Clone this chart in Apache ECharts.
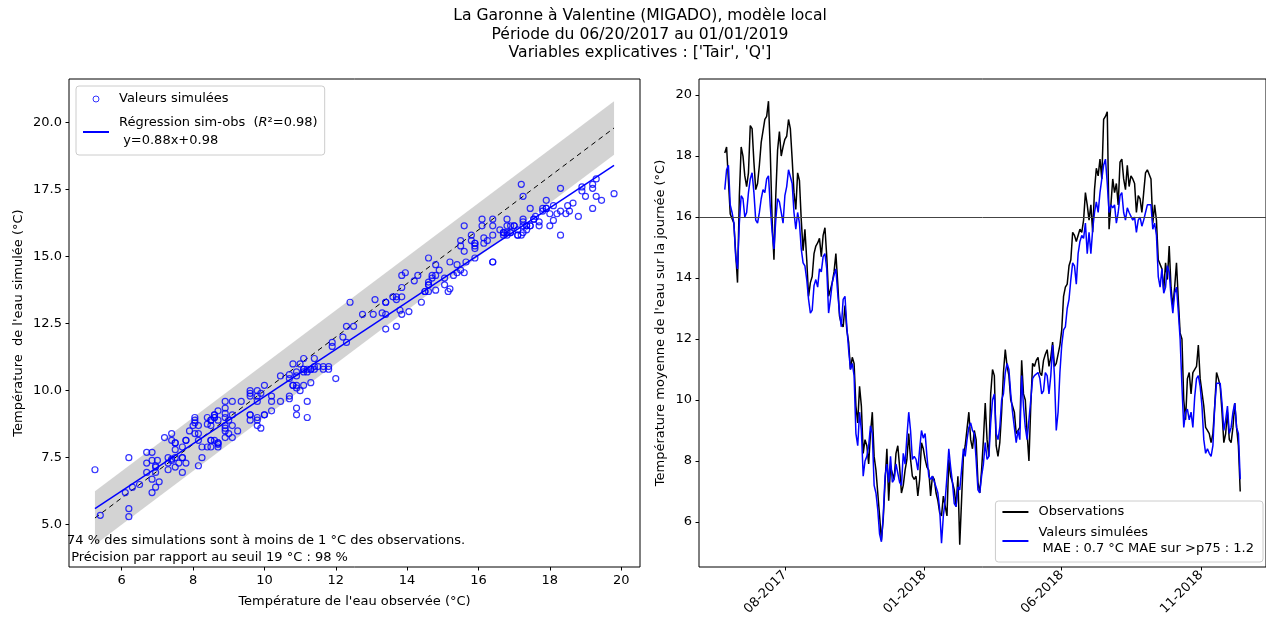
<!DOCTYPE html>
<html>
<head>
<meta charset="utf-8">
<title>La Garonne à Valentine</title>
<script src="https://cdn.jsdelivr.net/npm/echarts@6/dist/echarts.min.js"></script>
<style>
  html, body { margin: 0; padding: 0; background: #fff; }
  #chart { width: 1266px; height: 624px; }
</style>
</head>
<body>
<div id="chart"></div>
<script>
// water temperature (°C), one reading every 2 days starting 27/05/2017
const startDate = '2017-05-27';
const stepDays = 2;

const observed = [
  18.1, 18.3, 17.2, 16.1, 16.1, 15.8, 14.8, 13.85, 16.7, 18.3,
  18.0, 17.35, 17.0, 17.45, 19.0, 18.9, 17.8, 16.9, 17.1, 17.7,
  18.45, 18.5, 19.2, 19.3, 19.8, 18.1, 15.9, 14.6, 16.7, 18.2,
  18.8, 18.0, 18.3, 18.55, 18.65, 19.2, 18.9, 17.9, 16.8, 16.25,
  17.45, 17.2, 15.9, 14.9, 15.6, 14.6, 13.4, 13.85, 14.05, 14.8,
  15.05,
  15.15, 15.3, 14.7, 15.4, 15.65, 14.7, 13.4, 13.4, 13.85, 14.2,
  14.8, 13.85, 12.75, 12.5, 12.4, 13.1, 12.3, 11.9, 11.0, 11.4,
  11.2, 9.8, 9.25, 10.45, 9.8, 8.25, 8.7, 8.5, 7.9, 8.9,
  9.6, 8.15, 7.7, 6.95, 6.2, 5.4, 6.1, 7.3, 8.4, 6.7,
  7.8, 7.6, 7.4, 8.25, 8.5, 7.8, 6.95, 7.2,
  7.7, 8.05, 8.9, 8.05, 7.5, 7.4, 7.5, 6.85, 7.4, 8.6,
  8.4, 8.05, 7.8, 7.7, 6.85, 7.5, 7.4, 6.95, 6.7, 6.3,
  6.2, 6.85, 6.85, 6.2, 8.05, 7.5, 7.3, 7.05, 6.5, 7.5,
  5.25, 6.7, 8.15, 8.5, 8.5, 9.6, 8.7, 8.4, 9.0, 8.7,
  7.3, 6.95, 7.7, 8.7, 9.9, 8.7, 8.15, 10.2, 11.0, 10.8,
  8.5, 8.15, 8.6, 9.6, 10.9, 11.65, 11.1, 10.8, 10.0, 9.8,
  9.6, 8.9, 8.9, 9.1, 11.3, 10.2, 10.0, 8.9, 8.0, 9.8,
  11.2, 11.1, 11.3, 11.4, 10.9, 10.8, 11.3, 11.5, 11.65, 11.1,
  11.4, 11.9, 11.1, 11.2, 11.2, 11.8, 12.3, 13.4, 13.7, 13.8,
  14.4, 14.6, 15.5, 15.4, 15.2, 15.2, 15.6, 15.5, 15.9,
  16.8, 16.4, 15.9, 16.4, 15.5, 16.9, 17.6, 17.35, 17.9, 17.25,
  19.2, 19.3, 19.45, 15.6, 16.4, 17.25, 16.8, 17.1, 16.4, 17.8,
  17.9, 17.25, 16.9, 17.7, 17.0, 17.35, 17.25, 17.1, 16.15, 16.7,
  16.6, 16.15, 16.8, 17.45, 17.55, 17.55, 17.25, 15.8, 16.4, 15.9,
  14.6, 14.6, 14.3, 13.6, 14.5, 13.95, 15.05, 13.7, 13.05, 13.7,
  14.5, 13.3, 12.2, 12.0, 10.0, 9.35, 10.7, 10.9, 10.2, 10.9,
  10.9, 11.1, 11.8, 10.7, 10.7, 9.8, 9.1, 9.0, 8.9, 8.6,
  8.9, 9.8, 10.9, 10.7, 10.45, 9.6, 8.6, 8.9, 9.6, 8.7,
  8.6, 9.1, 9.9, 9.1, 8.5, 7.0
];

const simulated = [
  16.9, 17.55, 17.7, 16.4, 16.15, 15.8, 14.7, 14.3, 15.8, 16.7,
  16.6, 16.0, 16.15, 16.8, 17.25, 17.45, 16.8, 15.9, 15.8, 16.15,
  16.6, 16.9, 16.8, 17.25, 17.35, 16.35, 15.5, 14.95, 15.9, 16.6,
  16.5, 16.15, 15.8, 16.7, 17.0, 17.55, 17.6, 17.1, 16.15, 15.6,
  16.15, 15.8, 14.95, 14.5, 14.4, 13.95, 13.3, 12.85, 12.95, 13.75,
  13.95,
  13.7, 14.3, 14.2, 14.7, 14.8, 14.3, 12.85, 13.3, 13.85, 14.1,
  14.3, 13.5, 12.85, 12.4, 13.3, 13.4, 12.4, 11.65, 11.0, 11.2,
  10.8, 8.9, 8.5, 9.6, 9.0, 7.5, 8.0, 8.15, 8.5, 9.15,
  8.9, 7.2, 6.95, 6.4, 5.6, 5.35, 6.2, 7.5, 7.9, 7.3,
  8.15, 7.3, 7.4, 7.9, 7.9, 7.3, 7.2, 8.25,
  7.9, 8.8, 9.6, 9.0, 8.05, 8.15, 8.05, 7.7, 8.4, 9.0,
  8.75, 8.9, 8.15, 7.5, 7.4, 7.5, 7.45, 7.15, 6.95, 6.4,
  5.3, 6.2, 6.7, 7.5, 8.4, 7.8, 7.3, 6.6, 6.5, 7.15,
  7.05, 7.7, 8.4, 8.15, 8.7, 9.1, 9.25, 9.0, 8.9, 8.05,
  7.05, 6.95, 7.5, 7.9, 8.6, 8.05, 8.15, 9.25, 10.0, 10.2,
  8.9, 8.7, 9.1, 10.0, 10.2, 10.9, 11.2, 11.0, 10.2, 9.6,
  9.1, 8.6, 9.0, 8.7, 10.8, 9.8, 9.1, 8.7, 8.7, 10.0,
  10.7, 10.8, 10.8, 10.9, 10.7, 10.2, 10.3, 10.9, 10.8, 10.2,
  10.8, 11.8, 10.8, 9.0, 9.6, 10.9, 11.8, 12.3, 12.4, 13.0,
  13.3, 13.95, 14.5, 14.4, 13.8, 14.8, 15.2, 15.4, 15.3,
  15.8, 14.8, 15.5, 14.8, 15.6, 16.15, 16.5, 16.15, 16.8, 17.25,
  17.7, 17.9, 17.1, 16.15, 16.4, 16.3, 16.4, 15.8, 16.15, 16.7,
  16.8, 16.15, 15.9, 16.3, 16.15, 16.15, 15.9, 16.0, 15.5, 15.9,
  16.0, 15.7, 15.9, 16.15, 16.4, 16.4, 16.4, 15.6, 15.8, 15.4,
  14.05, 13.7, 14.3, 13.5, 13.7, 14.4, 14.2, 13.4, 12.85, 13.5,
  13.7, 12.9, 12.0, 10.45, 9.1, 9.6, 9.7, 9.35, 9.6, 9.1,
  10.1, 10.7, 10.8, 10.45, 9.8, 8.7, 8.25, 8.4, 8.25, 8.15,
  8.5, 9.8, 10.55, 10.6, 10.55, 9.9, 9.0, 9.35, 9.8, 8.9,
  9.1, 9.6, 9.9, 9.1, 8.9, 7.4
];

const xTicksLeft = [6, 8, 10, 12, 14, 16, 18, 20];
const yTicksLeft = [5, 7.5, 10, 12.5, 15, 17.5, 20];
const yTicksRight = [6, 8, 10, 12, 14, 16, 18, 20];
const dateTicks = ['2017-08-01', '2018-01-01', '2018-06-01', '2018-11-01'];

// regression sim = slope * obs + intercept, as printed in the legend
const slope = 0.88;
const intercept = 0.98;
const threshold = 16;

const FONT = 'DejaVu Sans';
const DAY = 86400000;
const t0 = Date.parse(startDate + 'T00:00:00Z');

const obsSeries = observed.map((v, i) => [t0 + i * stepDays * DAY, v]);
const simSeries = simulated.map((v, i) => [t0 + i * stepDays * DAY, v]);
const pairs = observed.map((v, i) => [v, simulated[i]]);

const xMin = Math.min(...observed);
const xMax = Math.max(...observed);
// +/- 1 °C band around the 1:1 line
const bandCorners = [[xMin, xMin - 1], [xMax, xMax - 1], [xMax, xMax + 1], [xMin, xMin + 1]];

// matplotlib-like 5% margins
const pad = (lo, hi) => [lo - 0.05 * (hi - lo), hi + 0.05 * (hi - lo)];
const leftX = pad(xMin, xMax);
const leftY = pad(Math.min(xMin - 1, ...simulated), Math.max(xMax + 1, ...simulated));
const allVals = observed.concat(simulated);
const rightY = pad(Math.min(...allVals), Math.max(...allVals));
const rightX = pad(obsSeries[0][0], obsSeries[obsSeries.length - 1][0]);

const legendNames = {
  pts: 'Valeurs simulées',
  reg: 'Régression sim-obs  ({i|R}²=0.98)\n y=0.88x+0.98',
  obs: 'Observations',
  sim: 'Valeurs simulées\n MAE : 0.7 °C MAE sur >p75 : 1.2'
};

const axisText = { color: '#000', fontSize: 13, fontFamily: FONT };
const tick = { show: true, length: 3.5, lineStyle: { color: '#000', width: 1 } };
const noDot = { opacity: 0 };

const chart = echarts.init(document.getElementById('chart'));

chart.setOption({
  animation: false,
  backgroundColor: '#fff',
  textStyle: { fontFamily: FONT },
  graphic: [
    {
      type: 'text', x: 640, y: 7, z: 10,
      style: {
        text: "La Garonne à Valentine (MIGADO), modèle local\nPériode du 06/20/2017 au 01/01/2019\nVariables explicatives : ['Tair', 'Q']",
        fontSize: 15.6, fontFamily: FONT, lineHeight: 18.5, fill: '#000',
        align: 'center', verticalAlign: 'top'
      }
    },
    {
      type: 'text', x: 67, y: 532, z: 10,
      style: {
        text: '74 % des simulations sont à moins de 1 °C des observations.\n Précision par rapport au seuil 19 °C : 98 %',
        fontSize: 13, fontFamily: FONT, lineHeight: 17, fill: '#000',
        align: 'left', verticalAlign: 'top'
      }
    }
  ],
  grid: [
    { left: 69, top: 79, width: 571, height: 488, show: true, borderColor: '#000', borderWidth: 1, backgroundColor: 'transparent' },
    { left: 699, top: 79, width: 570, height: 488, show: true, borderColor: '#000', borderWidth: 1, backgroundColor: 'transparent' }
  ],
  xAxis: [
    {
      type: 'value', gridIndex: 0, min: leftX[0], max: leftX[1],
      name: "Température de l'eau observée (°C)", nameLocation: 'middle', nameGap: 28,
      nameTextStyle: axisText,
      axisLine: { show: false }, splitLine: { show: false },
      axisTick: Object.assign({ customValues: xTicksLeft }, tick),
      axisLabel: Object.assign({ customValues: xTicksLeft, margin: 7 }, axisText)
    },
    {
      type: 'value', gridIndex: 1, min: rightX[0], max: rightX[1],
      axisLine: { show: false }, splitLine: { show: false },
      axisTick: Object.assign({ customValues: dateTicks.map(s => Date.parse(s + 'T00:00:00Z')) }, tick),
      axisLabel: Object.assign({
        customValues: dateTicks.map(s => Date.parse(s + 'T00:00:00Z')),
        rotate: 45, margin: 6,
        formatter: v => {
          const d = new Date(v);
          return String(d.getUTCMonth() + 1).padStart(2, '0') + '-' + d.getUTCFullYear();
        }
      }, axisText)
    }
  ],
  yAxis: [
    {
      type: 'value', gridIndex: 0, min: leftY[0], max: leftY[1],
      name: "Température  de l'eau simulée (°C)", nameLocation: 'middle', nameGap: 44,
      nameTextStyle: axisText,
      axisLine: { show: false }, splitLine: { show: false },
      axisTick: Object.assign({ customValues: yTicksLeft }, tick),
      axisLabel: Object.assign({ customValues: yTicksLeft, margin: 7, formatter: v => v.toFixed(1) }, axisText)
    },
    {
      type: 'value', gridIndex: 1, min: rightY[0], max: rightY[1],
      name: "Température moyenne de l'eau sur la journée (°C)", nameLocation: 'middle', nameGap: 32,
      nameTextStyle: axisText,
      axisLine: { show: false }, splitLine: { show: false },
      axisTick: Object.assign({ customValues: yTicksRight }, tick),
      axisLabel: Object.assign({ customValues: yTicksRight, margin: 7 }, axisText)
    }
  ],
  legend: [
    {
      data: [
        { name: 'pts', icon: 'circle', itemStyle: { color: '#fff', borderColor: '#0000ff', borderWidth: 1 } },
        { name: 'reg', itemStyle: noDot }
      ],
      orient: 'vertical', left: 76, top: 86,
      itemWidth: 26, itemHeight: 6, itemGap: 6,
      padding: [4, 7, 5, 6],
      borderColor: '#cccccc', borderWidth: 1, borderRadius: 3,
      backgroundColor: 'rgba(255,255,255,0.8)',
      selectedMode: false,
      formatter: n => legendNames[n],
      textStyle: {
        color: '#000', fontSize: 13, fontFamily: FONT, lineHeight: 18, padding: [0, 0, 0, 5],
        rich: { i: { fontStyle: 'italic', fontSize: 13, fontFamily: FONT, lineHeight: 18 } }
      }
    },
    {
      data: [
        { name: 'obs', itemStyle: noDot },
        { name: 'sim', itemStyle: noDot }
      ],
      orient: 'vertical', right: 3, bottom: 62,
      itemWidth: 26, itemHeight: 6, itemGap: 5,
      padding: [3, 9, 5, 6],
      borderColor: '#cccccc', borderWidth: 1, borderRadius: 3,
      backgroundColor: 'rgba(255,255,255,0.8)',
      selectedMode: false,
      formatter: n => legendNames[n],
      textStyle: { color: '#000', fontSize: 13, fontFamily: FONT, lineHeight: 16, padding: [0, 0, 0, 5] }
    }
  ],
  series: [
    {
      name: 'band', type: 'custom', xAxisIndex: 0, yAxisIndex: 0,
      data: bandCorners, silent: true, z: 1,
      renderItem: (params, api) => {
        if (params.dataIndex !== 0) return;
        return {
          type: 'polygon',
          shape: { points: bandCorners.map(p => api.coord(p)) },
          style: { fill: '#d3d3d3' }
        };
      }
    },
    {
      name: 'oneToOne', type: 'line', xAxisIndex: 0, yAxisIndex: 0,
      data: [[xMin, xMin], [xMax, xMax]],
      symbol: 'none', lineStyle: { color: '#000', width: 1, type: [5, 4] }, silent: true, z: 2
    },
    {
      name: 'pts', type: 'scatter', xAxisIndex: 0, yAxisIndex: 0,
      data: pairs, symbol: 'circle', symbolSize: 6,
      itemStyle: { color: 'rgba(0,0,0,0)', borderColor: '#0000ff', borderWidth: 1.2 },
      z: 3
    },
    {
      name: 'reg', type: 'line', xAxisIndex: 0, yAxisIndex: 0,
      data: [[xMin, slope * xMin + intercept], [xMax, slope * xMax + intercept]],
      symbol: 'none', lineStyle: { color: '#0000ff', width: 1.5 }, z: 4
    },
    {
      name: 'obs', type: 'line', xAxisIndex: 1, yAxisIndex: 1,
      data: obsSeries, symbol: 'none',
      lineStyle: { color: '#000', width: 1.5 }, z: 3
    },
    {
      name: 'sim', type: 'line', xAxisIndex: 1, yAxisIndex: 1,
      data: simSeries, symbol: 'none',
      lineStyle: { color: '#0000ff', width: 1.5 }, z: 4,
      markLine: {
        silent: true, symbol: 'none', label: { show: false },
        lineStyle: { color: '#444', width: 1, type: 'solid' },
        data: [{ yAxis: threshold }]
      }
    }
  ]
});
</script>
</body>
</html>
